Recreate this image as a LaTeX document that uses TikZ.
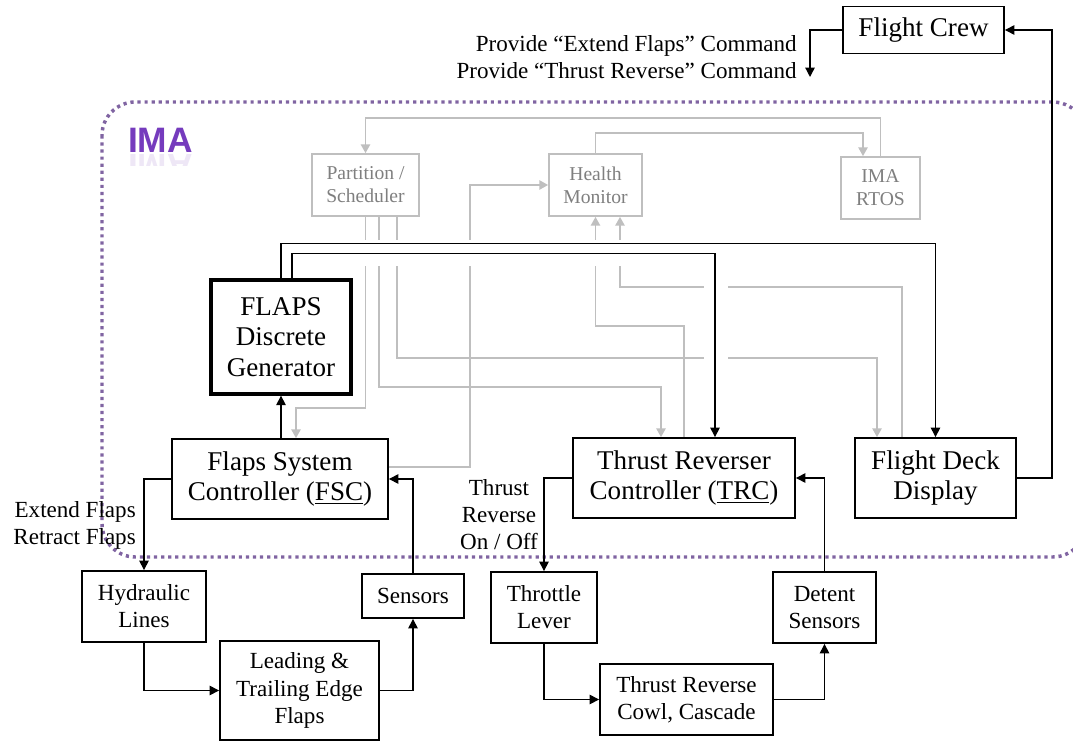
\documentclass[tikz,border=0pt]{standalone}
\usepackage{fontspec}
\setmainfont{Liberation Serif}
\newfontfamily\labelsans{Liberation Sans}
\usetikzlibrary{arrows.meta}

\definecolor{imapurple}{RGB}{128,100,162}
\definecolor{imatext}{RGB}{117,59,189}
\definecolor{sysgrey}{RGB}{191,191,191}
\definecolor{sysgreytext}{RGB}{127,127,127}

\tikzset{
  blk/.style={draw=black, line width=1.4pt, inner sep=0pt, align=center,
    font=\fontsize{20.3}{23}\selectfont},
  midblk/.style={blk, font=\fontsize{17.3}{20.3}\selectfont},
  thickblk/.style={blk, line width=2.5pt},
  greybox/.style={draw=sysgrey, line width=1.4pt, inner sep=0pt, align=center,
    text=sysgreytext, font=\fontsize{14.7}{17.25}\selectfont},
  link/.style={draw=black, line width=1pt, -{Triangle[length=7pt,width=7pt]}},
  glink/.style={draw=sysgrey, line width=1pt, -{Triangle[length=6.5pt,width=7pt]}},
  lbl/.style={inner sep=0pt, font=\fontsize{17.3}{20.3}\selectfont},
  imaborder/.style={draw=imapurple, line width=2.6pt,
    dash pattern=on 2.4pt off 2.9pt, rounded corners=25pt},
}

\begin{document}
\begin{tikzpicture}[x=0.75pt,y=-0.75pt]
\fill[white] (0,0) rectangle (1073,741);
\useasboundingbox (0,0) rectangle (1073,741);

% IMA partition boundary (its right edge runs past the page)
\draw[imaborder] (102,102) rectangle (1086,557);

% IMA title with a faint reflection
\node[inner sep=0pt, text=imatext, font=\labelsans\bfseries\fontsize{26.5}{30}\selectfont]
  (imatitle) at (160.5,140.5) {IMA};
\begin{scope}
  \clip (120,154) rectangle (205,166);
  \node[inner sep=0pt, text=imatext, opacity=0.12, yscale=-1,
    font=\labelsans\bfseries\fontsize{26.5}{30}\selectfont]
    (imareflect) at (160.5,166.5) {IMA};
\end{scope}

% RTOS services
\node[greybox, minimum width=80.25pt, minimum height=46.5pt] (part) at (365.5,185) {Partition /\\Scheduler};
\node[greybox, minimum width=69.75pt, minimum height=46.5pt] (hm) at (595.5,185) {Health\\Monitor};
\node[greybox, minimum width=59.25pt, minimum height=46.5pt] (rtos) at (880.5,188) {IMA\\RTOS};

% Applications and crew
\node[blk, minimum width=120.75pt, minimum height=35.25pt] (crew) at (923.5,30) {Flight Crew};
\node[thickblk, minimum width=105pt, minimum height=85.5pt] (flaps) at (281,337) {FLAPS\\Discrete\\Generator};
\node[blk, minimum width=162pt, minimum height=60pt] (fsc) at (280,479) {Flaps System\\Controller (\underline{FSC})};
\node[blk, minimum width=166.5pt, minimum height=60pt] (trc) at (684,478) {Thrust Reverser\\Controller (\underline{TRC})};
\node[blk, minimum width=120.75pt, minimum height=60pt] (fdd) at (935.5,478) {Flight Deck\\Display};

% Aircraft equipment
\node[midblk, minimum width=93pt, minimum height=53.25pt] (hyd) at (144,606.5) {Hydraulic\\Lines};
\node[midblk, minimum width=119.25pt, minimum height=74.25pt] (lead) at (299.5,690.5) {Leading \&\\Trailing Edge\\Flaps};
\node[midblk, minimum width=76.5pt, minimum height=33pt] (sens) at (413,596) {Sensors};
\node[midblk, minimum width=79.5pt, minimum height=53.25pt] (throt) at (544,607.5) {Throttle\\Lever};
\node[midblk, minimum width=129.75pt, minimum height=53.25pt] (cowl) at (686.5,699.5) {Thrust Reverse\\Cowl, Cascade};
\node[midblk, minimum width=77.25pt, minimum height=53.25pt] (detent) at (824.5,607.5) {Detent\\Sensors};

% Connector labels
\node[lbl, align=right, anchor=east] (cmdlbl) at (797,57)
  {Provide “Extend Flaps” Command\\Provide “Thrust Reverse” Command};
\node[lbl, align=right, anchor=east] (flapcmd) at (136,525) {Extend Flaps\\Retract Flaps};
\node[lbl, align=center] (trcmd) at (499,515) {Thrust\\Reverse\\On / Off};

% RTOS service paths
\draw[glink] (rtos.north) -- ++(0,-38) -| (part.north);
\draw[glink] (hm.north) -- ++(0,-20) -| ([xshift=-13.125pt]rtos.north);
\draw[glink] ([yshift=9pt]fsc.east) -- ++(81,0) |- (hm.west);
\draw[glink] (part.south) -- ++(0,191) -| ([xshift=12pt]fsc.north);
\draw[glink] ([xshift=10.125pt]part.south) -- ++(0,170) -| ([xshift=-17.25pt]trc.north);
\draw[glink] ([xshift=23.625pt]part.south) -- ++(0,141) -| ([xshift=-43.875pt]fdd.north);
\draw[glink] (trc.north) -- ++(0,-111) -| (hm.south);
\draw[glink] ([xshift=-25.125pt]fdd.north) -- ++(0,-150) -| ([xshift=18.375pt]hm.south);

% breaks in the grey paths where the black buses pass
\fill[white] (355,240) rectangle (630,266);
\fill[white] (704,281) rectangle (728,364);

% Command and data flow
\coordinate (cmdend) at (810,77);
\draw[link] (crew.west) -| (cmdend);
\draw[link] (fdd.east) -- ++(35,0) |- (crew.east);
\draw[link] (fsc.north -| flaps.south) -- (flaps.south);
\draw[link] (flaps.north) -- ++(0,-35) -| (fdd.north);
\draw[link] ([xshift=8.25pt]flaps.north) -- ++(0,-25) -| ([xshift=23.25pt]trc.north);

% Flaps loop
\draw[link] (fsc.west) -| (hyd.north);
\draw[link] (hyd.south) |- (lead.west);
\draw[link] (lead.east) -| (sens.south);
\draw[link] (sens.north) |- (fsc.east);

% Thrust reverser loop
\draw[link] (trc.west) -| (throt.north);
\draw[link] (throt.south) |- (cowl.west);
\draw[link] (cowl.east) -| (detent.south);
\draw[link] (detent.north) |- (trc.east);
\end{tikzpicture}
\end{document}
